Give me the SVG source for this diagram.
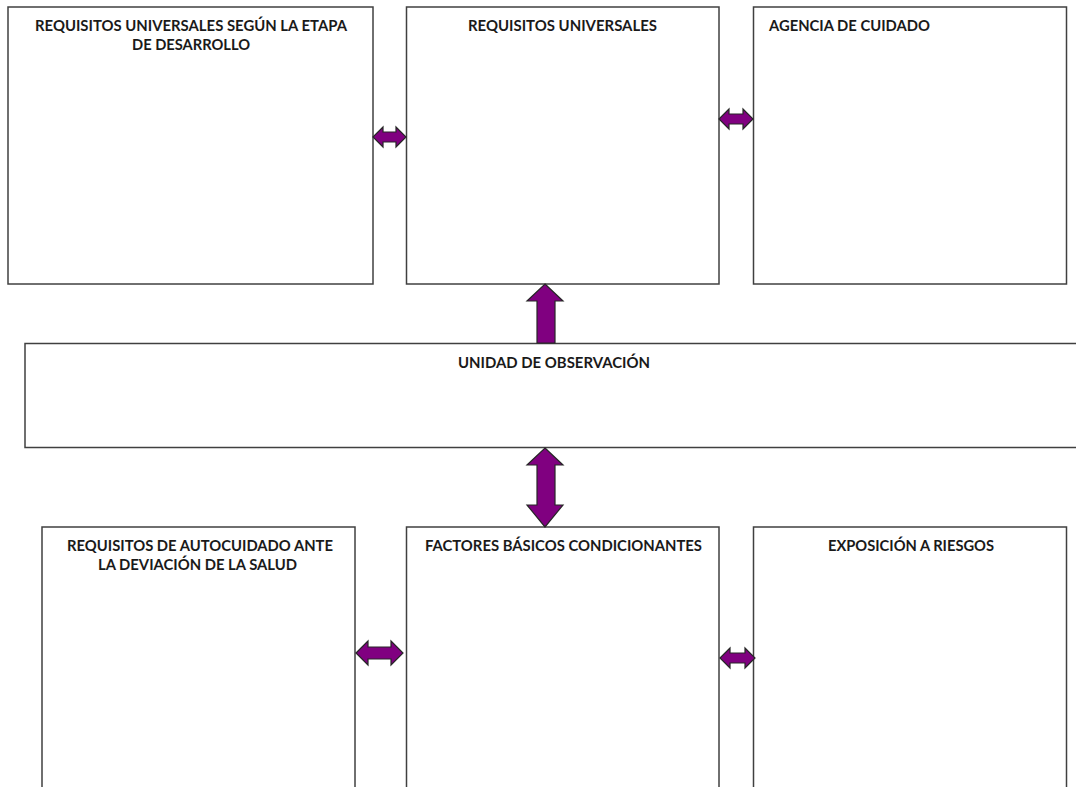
<svg xmlns="http://www.w3.org/2000/svg" width="1076" height="787" viewBox="0 0 1076 787">
<style>
.box{fill:#fff;stroke:#404040;stroke-width:1.5}
.t{font-family:Lato,"Open Sans","Liberation Sans",sans-serif;font-weight:bold;font-size:14.5px;fill:#1a1a1a}
.arr{fill:#800080;stroke:#262626;stroke-width:1.2;stroke-linejoin:miter}
</style>
<rect width="1076" height="787" fill="#fff"/>
<g id="n1"><rect class="box" x="8" y="7" width="365" height="277"/>
<text class="t" x="35" y="31" textLength="312" lengthAdjust="spacingAndGlyphs">REQUISITOS UNIVERSALES SEGÚN LA ETAPA</text>
<text class="t" x="132" y="50" textLength="118" lengthAdjust="spacingAndGlyphs">DE DESARROLLO</text></g>
<g id="n2"><rect class="box" x="406.5" y="7" width="312.5" height="277"/>
<text class="t" x="468" y="31" textLength="189" lengthAdjust="spacingAndGlyphs">REQUISITOS UNIVERSALES</text></g>
<g id="n3"><rect class="box" x="753.5" y="7" width="313" height="277"/>
<text class="t" x="769" y="31" textLength="161" lengthAdjust="spacingAndGlyphs">AGENCIA DE CUIDADO</text></g>
<g id="n4"><rect class="box" x="25" y="343.5" width="1060" height="104"/>
<text class="t" x="458" y="368" textLength="192" lengthAdjust="spacingAndGlyphs">UNIDAD DE OBSERVACIÓN</text></g>
<g id="n5"><rect class="box" x="42" y="527" width="313" height="270"/>
<text class="t" x="67" y="551" textLength="266" lengthAdjust="spacingAndGlyphs">REQUISITOS DE AUTOCUIDADO ANTE</text>
<text class="t" x="98" y="570" textLength="199" lengthAdjust="spacingAndGlyphs">LA DEVIACIÓN DE LA SALUD</text></g>
<g id="n6"><rect class="box" x="406.5" y="527" width="312.5" height="270"/>
<text class="t" x="425" y="551" textLength="277" lengthAdjust="spacingAndGlyphs">FACTORES BÁSICOS CONDICIONANTES</text></g>
<g id="n7"><rect class="box" x="753.5" y="527" width="313" height="270"/>
<text class="t" x="828" y="551" textLength="166" lengthAdjust="spacingAndGlyphs">EXPOSICIÓN A RIESGOS</text></g>
<g id="connectors">
<polygon class="arr" points="373,137 383,127 383,132 396,132 396,127 406,137 396,147 396,142 383,142 383,147"/>
<polygon class="arr" points="719,119 729,109 729,114 743,114 743,109 753,119 743,129 743,124 729,124 729,129"/>
<polygon class="arr" points="356,653 368,641 368,647 391,647 391,641 403,653 391,665 391,659 368,659 368,665"/>
<polygon class="arr" points="720,658 730,648 730,653 745,653 745,648 755,658 745,668 745,663 730,663 730,668"/>
<polygon class="arr" points="545,284 563,301 555,301 555,343 537,343 537,301 527,301"/>
<polygon class="arr" points="545,448 563,465 555,465 555,505 563,505 545,527 527,505 537,505 537,465 527,465"/>
</g>
</svg>
